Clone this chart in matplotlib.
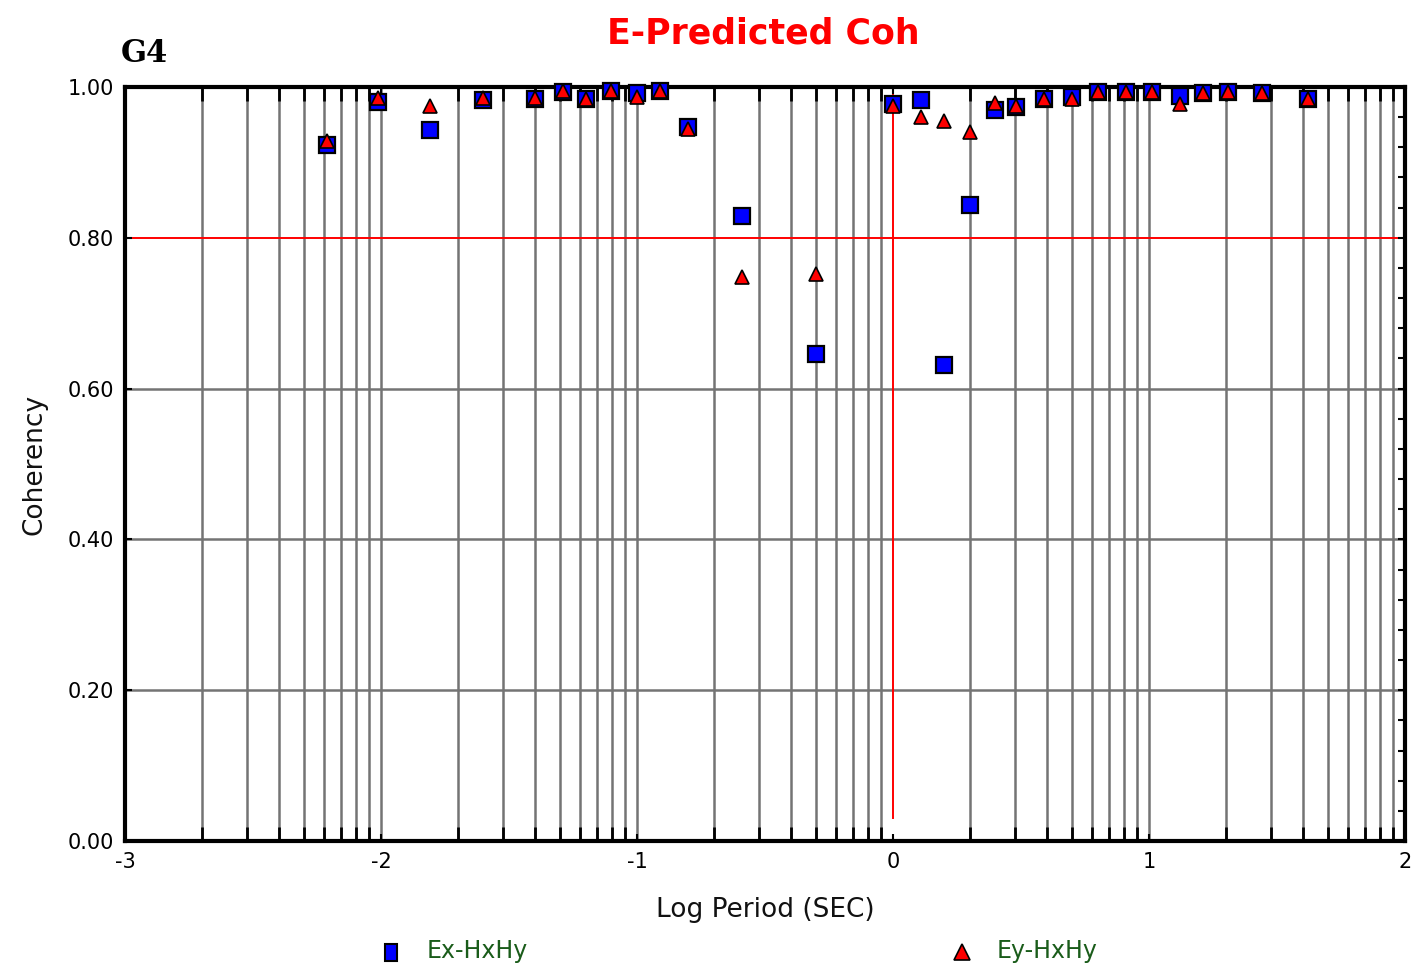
import numpy as np
import matplotlib
matplotlib.use("Agg")
import matplotlib.pyplot as plt
from matplotlib.patches import Rectangle
from matplotlib.ticker import MultipleLocator, FixedLocator

# Log period (seconds) of each estimate
log_period = [-2.21, -2.01, -1.81, -1.60, -1.40, -1.29, -1.20, -1.10, -1.00, -0.91,
              -0.80, -0.59, -0.30, 0.00, 0.11, 0.20, 0.30, 0.40, 0.48, 0.59,
              0.70, 0.80, 0.91, 1.01, 1.12, 1.21, 1.31, 1.44, 1.62]

# Predicted coherency, Ex from Hx/Hy
coh_ex = [0.923, 0.980, 0.943, 0.983, 0.984, 0.993, 0.984, 0.995, 0.992, 0.995,
          0.947, 0.829, 0.646, 0.977, 0.983, 0.631, 0.844, 0.969, 0.973, 0.984,
          0.987, 0.993, 0.993, 0.993, 0.988, 0.992, 0.993, 0.992, 0.984]

# Predicted coherency, Ey from Hx/Hy
coh_ey = [0.929, 0.985, 0.975, 0.985, 0.986, 0.995, 0.984, 0.995, 0.987, 0.995,
          0.944, 0.748, 0.752, 0.975, 0.960, 0.955, 0.940, 0.979, 0.975, 0.984,
          0.984, 0.993, 0.993, 0.993, 0.978, 0.992, 0.993, 0.992, 0.984]

x_ticks = [-3, -2, -1, 0, 1, 2]
y_ticks = [0.0, 0.2, 0.4, 0.6, 0.8, 1.0]
threshold = 0.80

fig = plt.figure(figsize=(14.14, 9.67), dpi=100)
ax = fig.add_axes([125 / 1414, 126 / 967, 1280 / 1414, 754 / 967])

ax.set_xlim(-3, 2)
ax.set_ylim(0, 1)

# vertical log-cycle grid lines
grid_x = [n + np.log10(k) for n in range(-3, 2) for k in range(1, 10)]
grid_x = [g for g in grid_x if -3 < g < 2 and abs(g) > 1e-9]
for g in grid_x:
    ax.axvline(g, color="#747474", lw=1.8, zorder=1)
for yv in [0.2, 0.4, 0.6]:
    ax.axhline(yv, color="#747474", lw=1.8, zorder=1)
ax.axhline(threshold, color="#ff0000", lw=1.4, zorder=1.5)
ax.axvline(0, ymin=0.03, ymax=1, color="#ff0000", lw=1.4, zorder=1.5)

ax.plot(log_period, coh_ex, linestyle="none", marker="s", markersize=11,
        markerfacecolor="#0000ff", markeredgecolor="black", markeredgewidth=1.6,
        zorder=3, clip_on=False)
ax.plot(log_period, coh_ey, linestyle="none", marker="^", markersize=10,
        markerfacecolor="#ff0000", markeredgecolor="black", markeredgewidth=1.2,
        zorder=4, clip_on=False)

ax.set_xticks(x_ticks)
ax.set_xticklabels([str(t) for t in x_ticks])
ax.set_yticks(y_ticks)
ax.set_yticklabels([f"{t:.2f}" for t in y_ticks])
ax.yaxis.set_minor_locator(MultipleLocator(0.04))
ax.xaxis.set_minor_locator(FixedLocator(grid_x))
ax.tick_params(axis="both", which="major", direction="in", length=5, width=1.5,
               labelsize=15, pad=8, right=True, top=True)
ax.tick_params(axis="y", which="minor", direction="in", length=5, width=1.5,
               left=False, right=True)
ax.tick_params(axis="x", which="minor", direction="in", length=10, width=2,
               bottom=True, top=True)

for s in ax.spines.values():
    s.set_linewidth(3)
    s.set_color("black")

ax.set_xlabel("Log Period (SEC)", fontsize=19, labelpad=18, color="#111111")
ax.set_ylabel("Coherency", fontsize=19, labelpad=14, color="#111111")

fig.text(763 / 1414, 1 - 33 / 967, "E-Predicted Coh", color="#ff0000",
         fontsize=25, fontweight="bold", ha="center", va="center")
fig.text(121 / 1414, 1 - 54 / 967, "G4", color="black", fontsize=22,
         fontweight="bold", family="DejaVu Serif", ha="left", va="center")

# legend row beneath the axis label
fig.add_artist(Rectangle((385 / 1414, 1 - 961 / 967), 12 / 1414, 17 / 967,
                         transform=fig.transFigure, facecolor="#0000ff",
                         edgecolor="black", linewidth=1.5))
fig.text(427 / 1414, 1 - 951 / 967, "Ex-HxHy", color="#1a5c1a", fontsize=17,
         ha="left", va="center")
ax.plot([962 / 1414], [1 - 952 / 967], transform=fig.transFigure, marker="^",
        markersize=11, markerfacecolor="#ff0000", markeredgecolor="black",
        markeredgewidth=1.2, linestyle="none", clip_on=False)
fig.text(997 / 1414, 1 - 951 / 967, "Ey-HxHy", color="#1a5c1a", fontsize=17,
         ha="left", va="center")

fig.savefig("out.png", dpi=100)
